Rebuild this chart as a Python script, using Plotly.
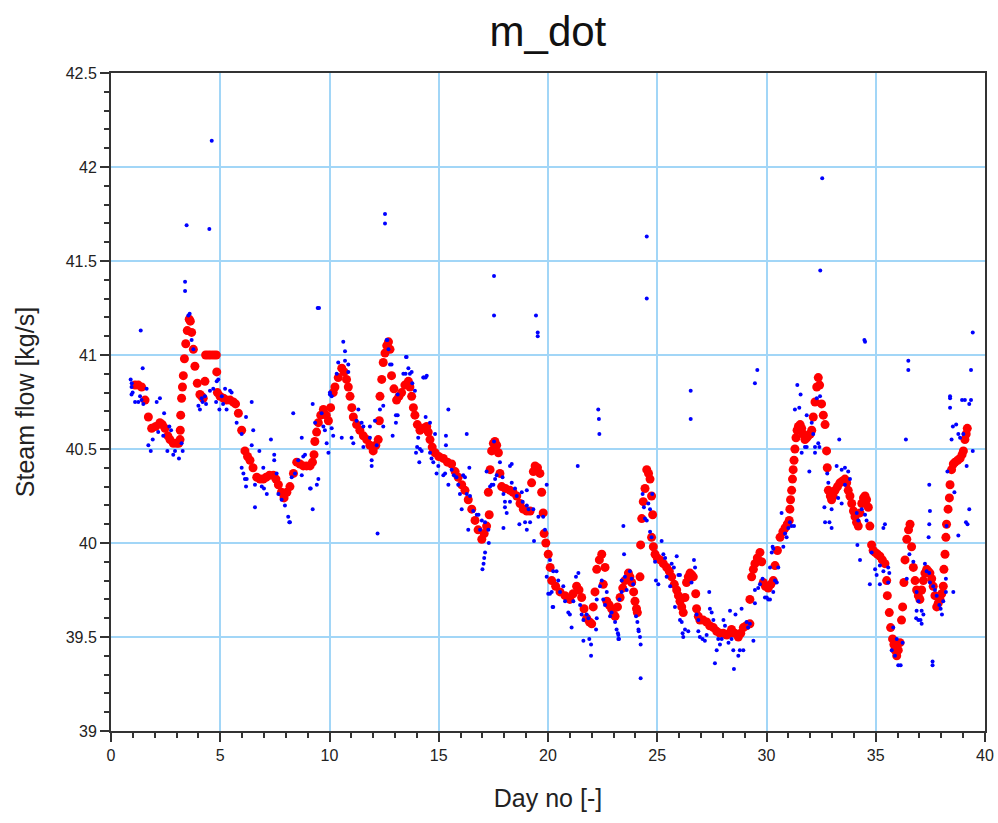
import plotly.graph_objects as go

# ---------------- data ----------------
red_day = [1.10, 1.25, 1.40, 1.56, 1.71, 1.86, 2.05, 2.24, 2.35, 2.47, 2.60, 2.70, 2.85, 3.00, 3.10, 3.16, 3.17, 3.19, 3.23, 3.27,
           3.31, 3.36, 3.42, 3.49, 3.58, 3.63, 3.69, 3.77, 3.84, 3.95, 4.07, 4.15, 4.22, 4.30, 4.33, 4.45, 4.57, 4.70, 4.82, 4.84,
           4.87, 4.99, 5.15, 5.29, 5.45, 5.60, 5.70, 5.83, 5.98, 6.13, 6.25, 6.36, 6.50, 6.67, 6.82, 6.97, 7.10, 7.25, 7.43, 7.55,
           7.66, 7.80, 7.92, 8.05, 8.19, 8.35, 8.50, 8.65, 8.80, 8.95, 9.11, 9.22, 9.29, 9.33, 9.41, 9.49, 9.60, 9.72, 9.85, 9.95,
           10.05, 10.17, 10.25, 10.40, 10.56, 10.67, 10.78, 10.86, 10.94, 11.02, 11.09, 11.24, 11.39, 11.55, 11.70, 11.85, 12.00, 12.12, 12.23, 12.28,
           12.31, 12.39, 12.46, 12.54, 12.62, 12.70, 12.77, 12.84, 12.95, 13.07, 13.18, 13.30, 13.45, 13.61, 13.68, 13.76, 13.84, 13.91, 14.02, 14.14,
           14.30, 14.45, 14.52, 14.60, 14.70, 14.83, 15.00, 15.21, 15.40, 15.59, 15.75, 15.89, 16.05, 16.20, 16.35, 16.51, 16.66, 16.80, 16.97, 17.08,
           17.19, 17.31, 17.27, 17.35, 17.42, 17.50, 17.57, 17.65, 17.73, 17.80, 17.88, 18.05, 18.26, 18.40, 18.57, 18.72, 18.87, 19.03, 19.18, 19.25,
           19.33, 19.41, 19.52, 19.63, 19.71, 19.78, 19.82, 19.90, 20.01, 20.10, 20.17, 20.35, 20.55, 20.78, 21.00, 21.15, 21.31, 21.42, 21.54, 21.65,
           21.77, 21.90, 22.00, 22.07, 22.15, 22.23, 22.35, 22.46, 22.61, 22.53, 22.69, 22.80, 22.91, 23.00, 23.07, 23.18, 23.30, 23.42, 23.52, 23.68,
           23.75, 23.83, 23.92, 23.98, 24.05, 24.09, 24.21, 24.24, 24.29, 24.36, 24.44, 24.52, 24.60, 24.67, 24.74, 24.79, 24.74, 24.82, 24.90, 25.00,
           25.13, 25.28, 25.43, 25.55, 25.66, 25.78, 25.89, 25.97, 26.04, 26.12, 26.19, 26.27, 26.34, 26.42, 26.50, 26.58, 26.65, 26.76, 26.80, 26.88,
           26.95, 27.10, 27.26, 27.40, 27.57, 27.72, 27.87, 28.02, 28.18, 28.30, 28.40, 28.55, 28.71, 28.82, 28.94, 29.08, 29.24, 29.24, 29.32, 29.40,
           29.47, 29.58, 29.70, 29.78, 29.85, 29.95, 30.08, 30.20, 30.31, 30.39, 30.50, 30.62, 30.75, 30.85, 30.95, 31.04, 31.07, 31.10, 31.15, 31.19,
           31.22, 31.26, 31.30, 31.35, 31.40, 31.46, 31.54, 31.61, 31.68, 31.76, 31.84, 31.91, 32.00, 32.07, 32.14, 32.22, 32.30, 32.37, 32.43, 32.52,
           32.60, 32.68, 32.75, 32.78, 32.83, 32.92, 32.98, 33.05, 33.14, 33.25, 33.36, 33.48, 33.59, 33.67, 33.74, 33.82, 33.90, 33.98, 34.05, 34.12,
           34.20, 34.28, 34.36, 34.44, 34.51, 34.58, 34.66, 34.73, 34.81, 34.88, 34.97, 35.08, 35.19, 35.30, 35.42, 35.50, 35.53, 35.62, 35.68, 35.77,
           35.83, 35.88, 35.96, 36.03, 36.11, 36.18, 36.23, 36.29, 36.34, 36.42, 36.50, 36.57, 36.64, 36.72, 36.80, 36.87, 36.95, 37.02, 37.10, 37.18,
           37.25, 37.33, 37.40, 37.48, 37.56, 37.63, 37.71, 37.79, 37.86, 37.94, 38.02, 38.09, 38.12, 38.17, 38.21, 38.24, 38.31, 38.37, 38.40, 38.47,
           38.55, 38.63, 38.75, 38.86, 38.95, 39.01, 39.08, 39.14, 39.19]
red_val = [40.84, 40.84, 40.83, 40.76, 40.67, 40.61, 40.62, 40.64, 40.63, 40.61, 40.57, 40.55, 40.53, 40.53, 40.53, 40.55, 40.60, 40.68, 40.77, 40.83,
           40.89, 40.98, 41.06, 41.13, 41.19, 41.18, 41.12, 41.03, 40.94, 40.85, 40.79, 40.78, 40.77, 40.86, 41.00, 41.00, 41.00, 41.00, 41.00, 40.91,
           40.80, 40.78, 40.77, 40.76, 40.76, 40.75, 40.74, 40.69, 40.60, 40.49, 40.46, 40.44, 40.40, 40.35, 40.34, 40.34, 40.35, 40.36, 40.36, 40.34,
           40.31, 40.27, 40.24, 40.27, 40.30, 40.37, 40.43, 40.42, 40.41, 40.41, 40.41, 40.43, 40.47, 40.54, 40.59, 40.64, 40.68, 40.71, 40.68, 40.65,
           40.72, 40.80, 40.83, 40.88, 40.93, 40.91, 40.87, 40.83, 40.78, 40.72, 40.67, 40.63, 40.60, 40.57, 40.55, 40.52, 40.49, 40.52, 40.55, 40.65,
           40.78, 40.87, 40.96, 41.01, 41.05, 41.07, 41.03, 40.89, 40.82, 40.76, 40.78, 40.80, 40.84, 40.86, 40.83, 40.78, 40.72, 40.68, 40.63, 40.60,
           40.61, 40.62, 40.59, 40.55, 40.51, 40.48, 40.46, 40.45, 40.43, 40.42, 40.38, 40.35, 40.31, 40.28, 40.23, 40.18, 40.12, 40.07, 40.02, 40.05,
           40.09, 40.15, 40.27, 40.39, 40.49, 40.53, 40.54, 40.52, 40.48, 40.37, 40.30, 40.29, 40.28, 40.27, 40.25, 40.21, 40.18, 40.17, 40.17, 40.32,
           40.38, 40.41, 40.40, 40.37, 40.27, 40.16, 40.05, 40.00, 39.94, 39.87, 39.80, 39.77, 39.74, 39.72, 39.70, 39.73, 39.77, 39.75, 39.71, 39.65,
           39.60, 39.58, 39.57, 39.66, 39.74, 39.86, 39.91, 39.94, 39.87, 39.78, 39.69, 39.67, 39.65, 39.62, 39.61, 39.66, 39.71, 39.76, 39.80, 39.84,
           39.82, 39.79, 39.74, 39.69, 39.65, 39.63, 39.82, 39.99, 40.13, 40.22, 40.29, 40.39, 40.37, 40.34, 40.25, 40.15, 40.03, 39.98, 39.94, 39.92,
           39.91, 39.89, 39.87, 39.85, 39.82, 39.78, 39.75, 39.72, 39.69, 39.66, 39.63, 39.71, 39.79, 39.82, 39.84, 39.83, 39.82, 39.73, 39.65, 39.61,
           39.59, 39.59, 39.58, 39.56, 39.55, 39.53, 39.52, 39.52, 39.51, 39.52, 39.54, 39.52, 39.50, 39.52, 39.55, 39.56, 39.57, 39.70, 39.82, 39.86,
           39.89, 39.92, 39.95, 39.90, 39.79, 39.77, 39.76, 39.78, 39.80, 39.88, 39.96, 40.03, 40.06, 40.08, 40.10, 40.12, 40.18, 40.23, 40.28, 40.34,
           40.39, 40.44, 40.50, 40.56, 40.60, 40.62, 40.63, 40.61, 40.58, 40.55, 40.56, 40.57, 40.58, 40.60, 40.67, 40.75, 40.83, 40.88, 40.84, 40.74,
           40.68, 40.63, 40.49, 40.40, 40.28, 40.25, 40.23, 40.25, 40.28, 40.30, 40.32, 40.33, 40.34, 40.32, 40.28, 40.25, 40.21, 40.17, 40.14, 40.11,
           40.09, 40.16, 40.21, 40.24, 40.25, 40.23, 40.19, 40.09, 39.99, 39.96, 39.95, 39.94, 39.93, 39.91, 39.89, 39.80, 39.72, 39.63, 39.55, 39.49,
           39.46, 39.43, 39.40, 39.43, 39.47, 39.59, 39.66, 39.79, 39.91, 40.02, 40.07, 40.10, 39.98, 39.87, 39.80, 39.75, 39.72, 39.70, 39.75, 39.80,
           39.84, 39.86, 39.85, 39.84, 39.81, 39.77, 39.72, 39.66, 39.68, 39.70, 39.73, 39.77, 39.86, 39.94, 40.03, 40.10, 40.18, 40.24, 40.31, 40.39,
           40.42, 40.43, 40.44, 40.45, 40.47, 40.49, 40.55, 40.58, 40.61]

blue_day = [
    0.90, 0.95, 0.94, 0.94, 0.99, 1.10, 1.25, 1.33, 1.40, 1.48, 1.63, 1.36, 1.45, 1.71, 1.82, 1.91, 2.09, 2.24, 2.43, 2.16,
    2.39, 2.67, 2.75, 2.58, 2.85, 2.93, 3.11, 3.28, 3.23, 3.39, 3.39, 3.46, 3.54, 3.60, 3.69, 3.77, 4.00, 4.07, 4.19, 4.35,
    4.30, 4.15, 4.53, 4.68, 4.84, 4.91, 5.22, 5.07, 4.81, 4.96, 5.13, 5.29, 5.45, 5.52, 4.61, 4.50, 6.44, 6.18, 5.75, 5.98,
    6.51, 6.44, 5.98, 6.06, 6.13, 6.21, 6.18, 6.59, 6.79, 6.97, 6.90, 7.00, 7.13, 7.32, 7.47, 7.47, 7.58, 7.66, 7.81, 7.96,
    8.11, 8.19, 8.34, 8.27, 8.42, 8.57, 8.73, 8.80, 8.88, 8.73, 9.11, 9.14, 9.23, 9.42, 9.49, 9.23, 9.34, 9.64, 9.72, 9.79,
    9.87, 9.95, 10.02, 10.10, 9.46, 9.52, 6.59, 8.16,
    10.63, 10.71, 10.40, 10.33, 10.71, 10.86, 10.86, 10.02, 10.10, 10.17, 10.56, 11.01, 11.09, 11.32, 11.24, 11.47, 11.55, 11.55, 11.85, 11.85,
    11.93, 11.93, 12.16, 12.08, 12.20, 12.31, 12.46, 12.46, 12.62, 12.70, 12.77, 12.89, 13.04, 13.04, 13.12, 13.12, 13.38, 13.53, 13.61, 13.68,
    13.76, 13.91, 13.96, 14.01, 14.06, 14.14, 14.22, 14.11, 14.29, 14.45, 14.40, 14.60, 14.83, 14.67, 14.60, 14.75, 14.90, 14.98, 15.21, 15.29,
    15.44, 15.33, 15.33, 15.44, 15.59, 15.69, 15.81, 15.89, 15.97, 16.05, 16.12, 16.20, 16.28, 16.40, 16.28, 16.43, 16.35, 16.58, 16.74, 16.82,
    16.97, 16.89, 17.12, 17.27, 17.00, 17.05, 17.12, 17.08, 17.29, 17.19, 17.35, 17.42, 17.50, 17.58, 17.65, 17.53, 17.80, 17.92, 17.96, 18.03,
    18.03, 18.11, 17.96, 18.26, 18.34, 18.34, 18.26, 18.49, 18.57, 18.80, 19.03, 18.84, 19.03, 19.11, 18.69, 18.95, 19.03, 19.18, 19.36, 19.33,
    19.56, 19.78, 19.94, 19.86, 19.94, 20.01, 20.09, 20.21, 17.53, 17.53, 19.45, 19.53, 19.53, 12.54, 12.54, 12.65, 12.84, 13.50, 13.48, 13.79,
    14.32, 14.40,
    21.36, 22.35, 22.30, 22.33, 23.45, 23.48, 20.09, 20.24, 20.39, 20.47, 20.17, 20.24, 20.55, 20.70, 20.78, 20.93, 21.00, 21.08, 21.16, 21.28,
    21.39, 21.47, 21.54, 21.62, 21.62, 21.77, 21.85, 21.89, 21.97, 21.97, 22.20, 22.23, 22.23, 22.38, 22.46, 22.53, 22.61, 22.69, 22.84, 22.91,
    23.07, 23.14, 23.22, 23.22, 23.27, 23.37, 23.37, 23.52, 23.60, 23.75, 23.83, 23.90, 24.03, 24.09, 24.14, 24.21, 24.24, 24.24, 24.33, 24.39,
    24.44, 24.52, 24.59, 24.67, 24.77, 24.67, 24.74, 24.90, 24.94, 25.05, 25.20, 25.28, 25.36, 25.43, 25.59, 25.66, 25.76, 25.89, 25.97, 26.04,
    25.81, 26.04, 26.12, 26.16, 26.19, 26.27, 26.42, 26.57, 26.68, 26.73, 26.80, 26.88, 26.88, 26.95, 27.07, 27.18, 27.26, 27.38, 27.41, 27.49,
    27.57, 27.64, 27.72, 27.79, 27.87, 27.95, 28.03, 28.10, 28.26, 28.33, 28.40, 28.48, 28.51, 28.58, 28.71, 28.78, 28.86, 28.94, 29.09, 29.16,
    29.24, 29.40, 29.47, 29.47, 29.62, 29.70, 29.82, 29.93, 30.01, 30.08, 30.24, 30.28, 30.16, 24.52, 24.52, 26.53, 26.53, 29.47, 29.58, 23.25,
    23.20, 24.15,
    30.16, 30.31, 30.39, 30.47, 30.54, 30.31, 30.77, 30.69, 30.85, 30.92, 31.00, 31.07, 31.15, 31.26, 31.41, 31.56, 31.30, 31.50, 31.84, 31.61,
    31.76, 31.84, 31.96, 32.07, 32.14, 32.22, 32.22, 32.37, 32.42, 32.30, 32.45, 33.33, 32.78, 32.83, 32.68, 32.88, 32.98, 32.65, 32.98, 33.21,
    33.44, 33.59, 33.74, 33.82, 33.44, 33.28, 33.59, 34.13, 34.20, 34.36, 34.51, 34.58, 34.16, 34.28, 34.73, 34.81, 34.97, 35.04, 35.19, 35.19,
    35.35, 35.42, 35.57, 35.62, 35.35, 35.57, 35.80, 35.73, 35.88, 36.03, 36.14, 35.96, 36.23, 36.42, 36.54, 36.72, 36.87, 36.95, 36.87, 36.95,
    37.10, 37.10, 37.18, 37.25, 37.33, 37.45, 37.48, 37.63, 37.71, 37.79, 37.91, 37.97, 38.09, 38.21, 38.21, 38.55, 38.24, 38.28, 38.40, 38.40,
    38.53, 38.47, 38.68, 38.78, 38.86, 39.01, 38.60, 38.78, 39.08, 39.28, 39.36, 39.16, 39.28, 39.44, 39.13, 32.55, 32.46, 34.51, 34.48, 39.44,
    36.49, 36.49, 39.36, 37.60, 37.60, 36.38, 37.45, 37.48, 37.45, 37.42, 38.40, 38.95, 39.20, 38.03, 36.85, 37.05]
blue_val = [
    40.87, 40.85, 40.83, 40.79, 40.80, 40.75, 40.75, 40.78, 40.76, 40.74, 40.82, 41.13, 40.93, 40.52, 40.49, 40.55, 40.75, 40.77, 40.69, 40.59,
    40.57, 40.62, 40.60, 40.49, 40.47, 40.49, 40.45, 40.49, 40.53, 41.34, 41.39, 41.69, 41.21, 41.22, 41.08, 41.03, 40.73, 40.71, 40.75, 40.74,
    40.78, 40.77, 40.81, 40.82, 40.86, 40.87, 40.82, 40.78, 40.75, 40.71, 40.74, 40.71, 40.81, 40.80, 42.14, 41.67, 40.75, 40.67, 40.64, 40.58,
    40.60, 40.52, 40.40, 40.37, 40.34, 40.34, 40.30, 40.31, 40.49, 40.40, 40.30, 40.29, 40.26, 40.55, 40.47, 40.44, 40.37, 40.26, 40.23, 40.20,
    40.14, 40.11, 40.69, 40.35, 40.37, 40.44, 40.56, 40.46, 40.47, 40.36, 40.29, 40.29, 40.18, 40.31, 40.34, 40.74, 40.64, 40.69, 40.62, 40.60,
    40.53, 40.48, 40.80, 40.78, 41.25, 41.25, 40.19, 40.11,
    41.07, 41.02, 40.96, 40.90, 40.97, 40.95, 40.91, 40.79, 40.61, 40.57, 40.56, 40.56, 40.53, 40.71, 40.65, 40.64, 40.62, 40.51, 40.62, 40.56,
    40.41, 40.44, 40.52, 40.65, 40.05, 40.71, 40.62, 40.73, 41.08, 41.03, 40.95, 40.57, 40.64, 40.68, 40.68, 40.79, 40.90, 40.99, 40.93, 40.90,
    40.91, 40.81, 40.48, 40.51, 40.56, 40.50, 40.49, 40.43, 40.88, 40.89, 40.67, 40.64, 40.58, 40.45, 40.48, 40.43, 40.37, 40.41, 40.36, 40.37,
    40.71, 40.57, 40.52, 40.31, 40.39, 40.36, 40.35, 40.31, 40.26, 40.18, 40.36, 40.35, 40.58, 40.40, 40.26, 40.25, 40.07, 40.17, 40.15, 40.15,
    40.12, 40.07, 40.11, 40.07, 39.86, 39.89, 39.95, 39.92, 40.00, 40.38, 40.30, 40.31, 40.31, 40.34, 40.36, 40.54, 40.43, 40.35, 40.26, 40.22,
    40.19, 40.16, 40.08, 40.41, 40.42, 40.32, 40.22, 40.29, 40.25, 40.27, 40.28, 40.22, 40.20, 40.18, 40.10, 40.11, 40.07, 40.11, 40.01, 40.18,
    40.14, 40.14, 40.31, 40.07, 39.82, 39.73, 39.73, 39.66, 41.42, 41.21, 41.21, 41.12, 41.10, 41.75, 41.70, 41.08, 40.95, 40.99, 40.90, 40.85,
    40.88, 40.88,
    40.41, 40.58, 40.71, 40.66, 40.09, 39.94, 39.91, 39.85, 39.85, 39.80, 39.74, 39.66, 39.74, 39.77, 39.69, 39.63, 39.62, 39.55, 39.69, 39.82,
    39.84, 39.67, 39.62, 39.59, 39.48, 39.62, 39.60, 39.49, 39.46, 39.40, 39.54, 39.60, 39.70, 39.77, 39.80, 39.70, 39.67, 39.74, 39.61, 39.63,
    39.58, 39.54, 39.51, 39.49, 39.70, 39.74, 39.80, 39.82, 39.75, 39.85, 39.81, 39.78, 39.61, 39.58, 39.54, 39.50, 39.46, 39.28, 40.26, 40.19,
    40.13, 40.12, 40.21, 40.18, 40.26, 40.06, 40.03, 39.90, 39.80, 39.78, 40.01, 39.94, 39.92, 39.82, 39.77, 39.89, 39.87, 39.93, 39.83, 39.83,
    39.66, 39.59, 39.58, 39.52, 39.50, 39.54, 39.53, 39.79, 39.91, 39.87, 39.62, 39.59, 39.53, 39.50, 39.49, 39.48, 39.51, 39.74, 39.65, 39.63,
    39.59, 39.36, 39.43, 39.49, 39.46, 39.49, 39.59, 39.56, 39.47, 39.64, 39.49, 39.43, 39.33, 39.62, 39.40, 39.43, 39.65, 39.43, 39.58, 39.55,
    39.57, 39.48, 39.68, 39.75, 39.76, 39.78, 39.81, 39.71, 39.71, 39.70, 39.95, 39.98, 39.87, 41.63, 41.30, 40.81, 40.66, 40.85, 40.92, 39.49,
    39.52, 39.53,
    39.70, 39.74, 39.80, 39.79, 39.87, 39.97, 39.98, 40.16, 40.05, 40.03, 40.08, 40.11, 40.09, 40.09, 40.84, 40.79, 40.71, 40.72, 40.68, 40.48,
    40.51, 40.51, 40.38, 40.64, 40.58, 40.51, 40.48, 40.53, 40.51, 40.77, 40.78, 40.55, 40.37, 40.32, 40.11, 40.11, 40.08, 40.19, 40.18, 40.41,
    40.39, 40.40, 40.38, 40.34, 40.21, 40.24, 40.31, 40.16, 40.12, 40.18, 40.15, 40.12, 39.99, 39.91, 39.78, 39.95, 39.86, 39.83, 39.78, 39.88,
    40.08, 40.10, 39.87, 39.84, 39.85, 39.79, 39.55, 39.43, 39.40, 39.35, 39.35, 39.49, 39.47, 39.81, 39.94, 39.90, 39.74, 39.69, 39.64, 39.59,
    39.57, 39.64, 39.62, 39.89, 39.85, 39.84, 39.79, 39.77, 39.75, 39.72, 39.67, 39.65, 39.69, 39.74, 39.81, 39.74, 40.09, 40.38, 40.72, 40.78,
    40.62, 40.55, 40.63, 40.58, 40.56, 40.58, 40.27, 40.04, 40.76, 40.74, 40.76, 40.41, 40.18, 40.49, 40.11, 41.94, 41.45, 41.07, 41.08, 41.12,
    40.97, 40.92, 40.92, 39.37, 39.35, 40.55, 40.31, 40.17, 40.10, 40.03, 40.77, 40.76, 40.10, 39.62, 39.60, 39.59]

x_tickvals = [0, 5, 10, 15, 20, 25, 30, 35, 40]
x_ticktext = ["0", "5", "10", "15", "20", "25", "30", "35", "40"]
y_tickvals = [39, 39.5, 40, 40.5, 41, 41.5, 42, 42.5]
y_ticktext = ["39", "39.5", "40", "40.5", "41", "41.5", "42", "42.5"]

FONT = "Liberation Sans, Arial, sans-serif"

# ---------------- figure ----------------
fig = go.Figure()
fig.add_trace(go.Scatter(x=red_day, y=red_val, mode="markers",
                         marker=dict(color="#ff0000", size=9, line=dict(width=0)),
                         name="smoothed", hoverinfo="x+y"))
fig.add_trace(go.Scatter(x=blue_day, y=blue_val, mode="markers",
                         marker=dict(color="#0000ff", size=4, line=dict(width=0)),
                         name="measured", hoverinfo="x+y"))

axis_common = dict(
    showline=True, linecolor="#333333", linewidth=2, mirror=True,
    ticks="outside", ticklen=9, tickwidth=1.5, tickcolor="#333333",
    gridcolor="#a2d6f7", gridwidth=2, zeroline=False,
    tickfont=dict(family=FONT, size=16, color="#222222"),
)

fig.update_xaxes(range=[0, 40], tickmode="array", tickvals=x_tickvals, ticktext=x_ticktext,
                 minor=dict(dtick=1, ticks="outside", ticklen=5, tickcolor="#333333", showgrid=False),
                 title=dict(text="Day no [-]", standoff=26,
                            font=dict(family=FONT, size=25, color="#222222")),
                 **axis_common)
fig.update_yaxes(range=[39, 42.5], tickmode="array", tickvals=y_tickvals, ticktext=y_ticktext,
                 minor=dict(dtick=0.1, ticks="outside", ticklen=5, tickcolor="#333333", showgrid=False),
                 title=dict(text="Steam flow [kg/s]", standoff=24,
                            font=dict(family=FONT, size=25, color="#222222")),
                 **axis_common)

fig.update_layout(
    width=998, height=823,
    margin=dict(l=111, r=13, t=73, b=92, autoexpand=False),
    paper_bgcolor="white", plot_bgcolor="white",
    showlegend=False,
    title=dict(text="m_dot", x=0.549, xanchor="center", y=0.962, yanchor="middle",
               font=dict(family=FONT, size=42, color="#111111")),
)

fig.write_html("out.html", config={"displayModeBar": False},
               post_script="document.body.style.margin='0';document.body.style.overflow='hidden';")
